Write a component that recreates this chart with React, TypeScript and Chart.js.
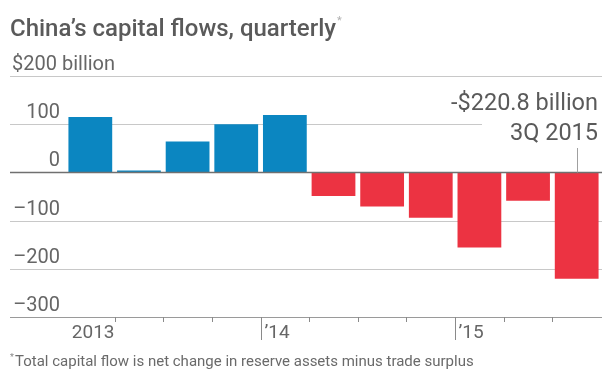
import React, { useEffect, useRef } from "react";
import { Chart, registerables } from "chart.js";
Chart.register(...registerables);

const quarters = ["1Q 2013", "2Q 2013", "3Q 2013", "4Q 2013", "1Q 2014", "2Q 2014", "3Q 2014", "4Q 2014", "1Q 2015", "2Q 2015", "3Q 2015"];
const flows = [115, 4, 64, 100, 119, -49, -71, -94, -156, -59, -220.8];
const yTicks = [200, 100, 0, -100, -200, -300];
const yTickLabels = ["$200 billion", "100", "0", "–100", "–200", "–300"];
const yearStarts = [0, 4, 8];
const yearLabels = ["2013", "’14", "’15"];
const titleText = "China’s capital flows, quarterly";
const footnoteText = "Total capital flow is net change in reserve assets minus trade surplus";
const calloutValue = "-$220.8 billion";
const calloutPeriod = "3Q 2015";

const FONT = "Roboto, 'Noto Sans', sans-serif";
const BLUE = "#0b86c1";
const RED = "#ec3342";

const wsjPlugin = {
  id: "wsjDecor",
  beforeDatasetsDraw(chart: any) {
    const { ctx, scales } = chart;
    const y = scales.y;
    const x = scales.x;
    const gl = 10, gr = 602;
    ctx.save();
    yTicks.forEach((v) => {
      if (v === 0) return;
      const py = Math.round(y.getPixelForValue(v)) + 0.5;
      const right = v === 100 ? 482 : gr;
      ctx.strokeStyle = v === -300 ? "#9a9a9a" : "#c8c8c8";
      ctx.lineWidth = 1;
      ctx.beginPath();
      ctx.moveTo(gl, py);
      ctx.lineTo(right, py);
      ctx.stroke();
    });
    ctx.fillStyle = "#666";
    ctx.textBaseline = "alphabetic";
    yTicks.forEach((v, i) => {
      const py = y.getPixelForValue(v);
      ctx.font = `20px ${FONT}`;
      if (i === 0) {
        ctx.textAlign = "left";
        ctx.fillText(yTickLabels[i], 12, py - 6);
      } else {
        ctx.textAlign = "right";
        ctx.fillText(yTickLabels[i], 60, py - 6);
      }
    });
    const bottom = y.getPixelForValue(-300);
    ctx.strokeStyle = "#8a8a8a";
    ctx.lineWidth = 1;
    const boundary = (i: number) => Math.round((x.getPixelForValue(i - 1) + x.getPixelForValue(i)) / 2) + 0.5;
    for (let i = 1; i < quarters.length; i++) {
      const px = boundary(i);
      const major = yearStarts.includes(i);
      ctx.beginPath();
      ctx.moveTo(px, bottom);
      ctx.lineTo(px, bottom + (major ? 23 : 5));
      ctx.stroke();
    }
    ctx.font = `19px ${FONT}`;
    ctx.fillStyle = "#666";
    yearStarts.forEach((s, k) => {
      if (k === 0) {
        ctx.textAlign = "right";
        ctx.fillText(yearLabels[k], boundary(1) - 1, bottom + 21);
      } else {
        ctx.textAlign = "left";
        ctx.fillText(yearLabels[k], boundary(s) + 3, bottom + 21);
      }
    });
    ctx.restore();
  },
  afterDatasetsDraw(chart: any) {
    const { ctx, scales } = chart;
    const y = scales.y;
    const x = scales.x;
    ctx.save();
    const z = Math.round(y.getPixelForValue(0)) + 0.5;
    ctx.strokeStyle = "#707070";
    ctx.lineWidth = 1.5;
    ctx.beginPath();
    ctx.moveTo(10, z);
    ctx.lineTo(602, z);
    ctx.stroke();
    ctx.textBaseline = "alphabetic";
    ctx.textAlign = "left";
    ctx.font = `500 24px ${FONT}`;
    ctx.fillStyle = "#5a5a5a";
    ctx.fillText(titleText, 10, 36);
    const tw = ctx.measureText(titleText).width;
    ctx.font = `11px ${FONT}`;
    ctx.fillStyle = "#b0b0b0";
    ctx.fillText("*", 10 + tw + 1, 24);
    const last = quarters.length - 1;
    const lx = Math.round(x.getPixelForValue(last)) + 0.5;
    ctx.font = `23.5px ${FONT}`;
    ctx.fillStyle = "#5a5a5a";
    ctx.textAlign = "right";
    ctx.fillText(calloutValue, 598, 110);
    ctx.fillText(calloutPeriod, 598, 140);
    ctx.strokeStyle = "#a0a0a0";
    ctx.lineWidth = 1;
    ctx.beginPath();
    ctx.moveTo(lx, 148);
    ctx.lineTo(lx, z);
    ctx.stroke();
    ctx.textAlign = "left";
    ctx.font = `9px ${FONT}`;
    ctx.fillStyle = "#888";
    ctx.fillText("*", 10, 360);
    ctx.font = `15px ${FONT}`;
    ctx.fillStyle = "#6a6a6a";
    ctx.fillText(footnoteText, 15, 366);
    ctx.restore();
  },
};

export default function App() {
  const ref = useRef<HTMLCanvasElement | null>(null);
  useEffect(() => {
    document.body.style.margin = "0";
    const canvas = ref.current!;
    const chart = new Chart(canvas, {
      type: "bar",
      data: {
        labels: quarters,
        datasets: [
          {
            data: flows,
            backgroundColor: flows.map((v) => (v >= 0 ? BLUE : RED)),
            borderWidth: 0,
            categoryPercentage: 1,
            barPercentage: 0.9,
          },
        ],
      },
      options: {
        animation: false,
        responsive: false,
        devicePixelRatio: 1,
        layout: { padding: { left: 66, right: 15, top: 76, bottom: 60 } },
        plugins: { legend: { display: false }, tooltip: { enabled: false }, title: { display: false } },
        scales: {
          x: { display: false, offset: true },
          y: { display: false, min: -300, max: 200, ticks: { stepSize: 100 } },
        },
      },
      plugins: [wsjPlugin],
    });
    return () => chart.destroy();
  }, []);
  return <canvas ref={ref} width={616} height={377} style={{ display: "block", width: 616, height: 377 }} />;
}
